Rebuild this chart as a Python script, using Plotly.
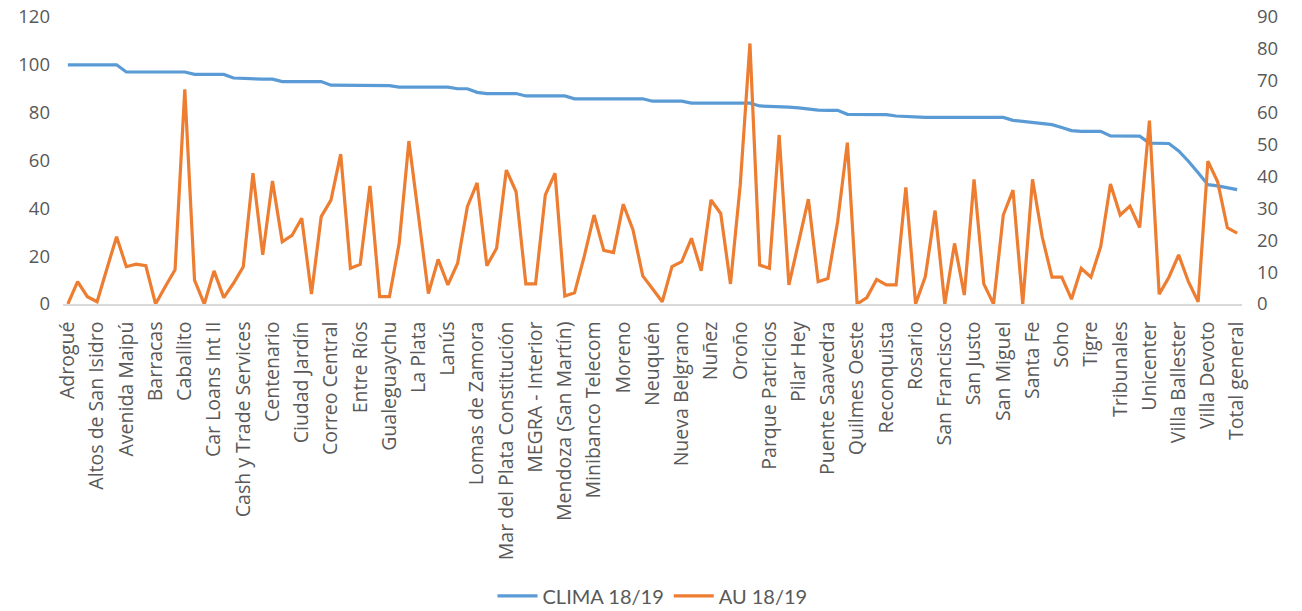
import plotly.graph_objects as go

# Branch names printed on the category axis (every third branch is labelled)
branch_labels = [
    "Adrogué", "Altos de San Isidro", "Avenida Maipú", "Barracas", "Caballito",
    "Car Loans Int II", "Cash y Trade Services", "Centenario", "Ciudad Jardín",
    "Correo Central", "Entre Ríos", "Gualeguaychu", "La Plata", "Lanús",
    "Lomas de Zamora", "Mar del Plata Constitución", "MEGRA - Interior",
    "Mendoza (San Martín)", "Minibanco Telecom", "Moreno", "Neuquén",
    "Nueva Belgrano", "Nuñez", "Oroño", "Parque Patricios", "Pilar Hey",
    "Puente Saavedra", "Quilmes Oeste", "Reconquista", "Rosario",
    "San Francisco", "San Justo", "San Miguel", "Santa Fe", "Soho", "Tigre",
    "Tribunales", "Unicenter", "Villa Ballester", "Villa Devoto", "Total general",
]
label_step = 3

# CLIMA 18/19 (left axis)
clima = [
    100, 100, 100, 100, 100, 100, 97, 97, 97, 97,
    97, 97, 97, 96, 96, 96, 96, 94.5, 94.3, 94,
    94, 94, 93, 93, 93, 93, 93, 91.5, 91.5, 91.5,
    91.5, 91.5, 91.5, 91.3, 90.7, 90.7, 90.7, 90.7, 90.7, 90.7,
    90, 90, 88.5, 88, 88, 88, 88, 87, 87, 87,
    87, 87, 85.8, 85.8, 85.8, 85.8, 85.8, 85.8, 85.8, 85.8,
    84.8, 84.8, 84.8, 84.8, 84, 84, 84, 84, 84, 84,
    84, 82.8, 82.7, 82.7, 82.3, 82, 81.5, 81.1, 81, 81,
    79.3, 79.2, 79.2, 79.2, 79.2, 78.6, 78.4, 78, 78, 78,
    78, 78, 78, 78, 78, 78, 78, 76.8, 76.4, 76,
    75.5, 75, 73.8, 72.5, 72.2, 72.2, 72.2, 70.3, 70.2, 70.2,
    70.2, 67.3, 67.1, 67.1, 64, 59.7, 54.9, 49.9, 49.4, 48.6,
    47.8,
]

# AU 18/19 (right axis)
au = [
    0, 7, 2.3, 0.7, 11, 21.1, 11.7, 12.5, 12, 0,
    5.5, 10.7, 67.3, 7.5, 0, 10.4, 2, 6.5, 11.7, 41,
    15.4, 38.6, 19.5, 21.5, 26.9, 3.1, 27.4, 32.6, 47, 11.2,
    12.4, 37, 2.3, 2.3, 19, 51.1, 27.3, 3.3, 14, 6,
    12.8, 30.5, 38, 12, 17.5, 42, 35.2, 6.3, 6.3, 34.2,
    41, 2.5, 3.5, 15, 27.9, 16.8, 16.1, 31.3, 23.2, 8.8,
    4.8, 0.7, 11.7, 13.3, 20.6, 10.4, 32.6, 28.4, 6.3, 37.1,
    81.7, 12.2, 11.2, 53, 6, 19.4, 32.9, 7, 8, 25.8,
    50.6, 0, 2, 7.7, 6, 6, 36.6, 0, 8.6, 29.3,
    0, 19, 2.8, 39.1, 6.3, 0, 27.9, 35.7, 0, 39.1,
    21, 8.4, 8.4, 1.5, 11.2, 8.4, 18, 37.6, 27.9, 30.7,
    24, 57.5, 3.1, 8.4, 15.4, 7, 0.7, 44.8, 38.3, 23.9,
    22.2,
]

left_ticks = [0, 20, 40, 60, 80, 100, 120]
right_ticks = [0, 10, 20, 30, 40, 50, 60, 70, 80, 90]

positions = list(range(len(clima)))
tick_positions = positions[::label_step]

blue = "#5B9BD5"
orange = "#ED7D31"
tick_color = "#595959"
axis_color = "#D9D9D9"

fig = go.Figure()
fig.add_trace(go.Scatter(
    x=positions, y=clima, name="CLIMA 18/19", mode="lines",
    line=dict(color=blue, width=3.2), yaxis="y",
))
fig.add_trace(go.Scatter(
    x=positions, y=au, name="AU 18/19", mode="lines",
    line=dict(color=orange, width=3.2), yaxis="y2",
))

value_font = dict(family="Open Sans", size=18.5, color=tick_color)
category_font = dict(family="Open Sans", size=19.5, color=tick_color)

fig.update_layout(
    width=1302, height=611,
    margin=dict(l=63, r=60, t=17, b=307, autoexpand=False),
    paper_bgcolor="white", plot_bgcolor="white",
    showlegend=True,
    legend=dict(
        orientation="h", x=0.5, xanchor="center", y=-1.017, yanchor="middle",
        font=dict(family="Lato", size=20, color=tick_color),
        itemwidth=40, tracegroupgap=0,
    ),
    xaxis=dict(
        range=[-0.5, len(clima) - 0.5],
        tickmode="array", tickvals=tick_positions, ticktext=branch_labels,
        tickangle=-90, tickfont=category_font, showgrid=False, zeroline=False,
        showline=True, linecolor=axis_color, linewidth=1.5, ticks="",
        ticklabelstandoff=8, automargin=False,
    ),
    yaxis=dict(
        range=[0, 120], tickmode="array", tickvals=left_ticks,
        tickfont=value_font, showgrid=False, zeroline=False, showline=False,
        ticks="", ticklabelstandoff=12, automargin=False,
    ),
    yaxis2=dict(
        range=[0, 90], tickmode="array", tickvals=right_ticks,
        tickfont=value_font, overlaying="y", side="right", showgrid=False,
        zeroline=False, showline=False, ticks="", ticklabelstandoff=14,
        automargin=False,
    ),
)

fig.write_html("out.html")
